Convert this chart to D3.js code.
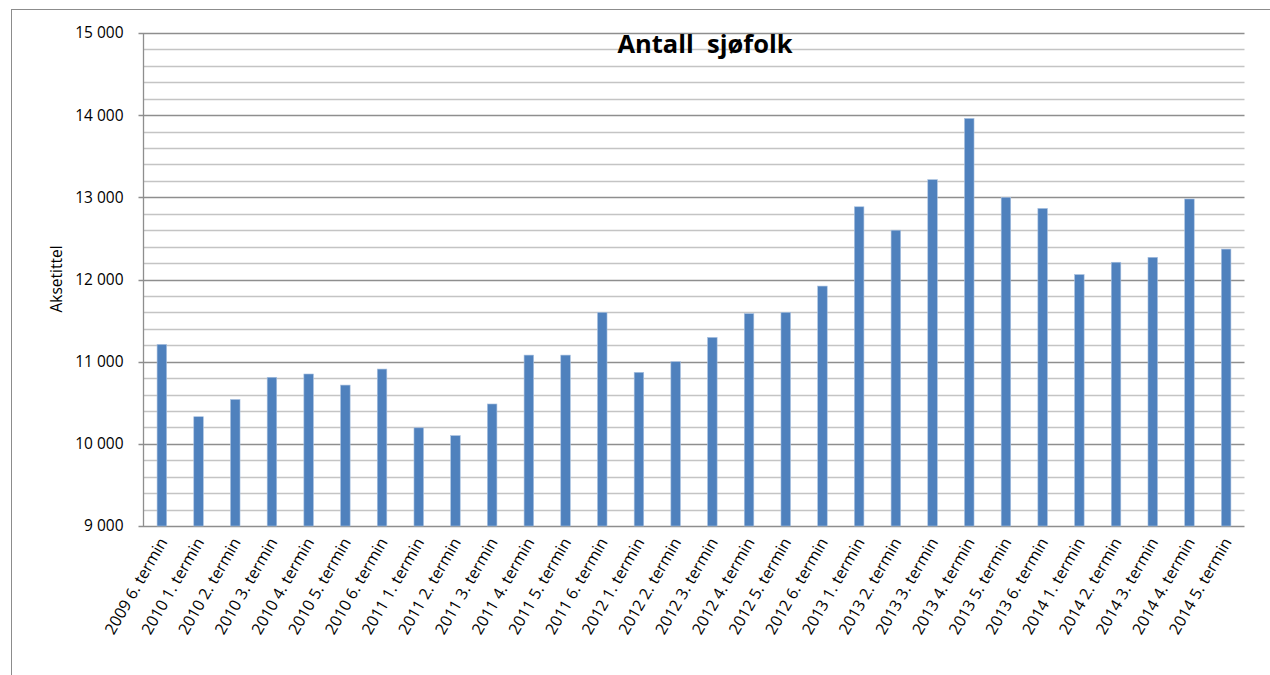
<!DOCTYPE html>
<html><head><meta charset="utf-8">
<script src="https://cdn.jsdelivr.net/npm/d3@7"></script>
<style>body{margin:0;background:#fff;} svg{display:block;}</style>
</head><body>
<script>
const categories = ["2009 6. termin","2010 1. termin","2010 2. termin","2010 3. termin","2010 4. termin","2010 5. termin","2010 6. termin","2011 1. termin","2011 2. termin","2011 3. termin","2011 4. termin","2011 5. termin","2011 6. termin","2012 1. termin","2012 2. termin","2012 3. termin","2012 4. termin","2012 5. termin","2012 6. termin","2013 1. termin","2013 2. termin","2013 3. termin","2013 4. termin","2013 5. termin","2013 6. termin","2014 1. termin","2014 2. termin","2014 3. termin","2014 4. termin","2014 5. termin"];
const values = [11210,10330,10540,10810,10850,10715,10910,10195,10100,10485,11080,11080,11600,10870,11000,11295,11585,11600,11920,12885,12600,13215,13960,13000,12865,12060,12210,12270,12980,12370];
const majorTicks = [9000,10000,11000,12000,13000,14000,15000];
const title = "Antall  sjøfolk";
const yTitle = "Aksetittel";

const W=1270,H=675;
const svg=d3.select("body").append("svg").attr("width",W).attr("height",H);
const font="'Open Sans', 'Liberation Sans', Arial, sans-serif";
// outer frame
svg.append("rect").attr("x",11.5).attr("y",9.5).attr("width",W+10).attr("height",H+10)
  .attr("fill","none").attr("stroke","#8c8c8c").attr("stroke-width",1);

const pLeft=143.5,pRight=1244.5,pTop=33,pBottom=526;
const x=d3.scaleBand().domain(categories).range([pLeft,pRight]).paddingInner(0.74).paddingOuter(0.37);
const y=d3.scaleLinear().domain([9000,15000]).range([pBottom,pTop]);

const minor=d3.range(9000,15001,200).filter(v=>v%1000!==0);
svg.append("g").selectAll("line").data(minor).join("line")
  .attr("x1",pLeft).attr("x2",pRight).attr("y1",d=>Math.round(y(d))+0.5).attr("y2",d=>Math.round(y(d))+0.5)
  .attr("stroke","#c4c4c4").attr("stroke-width",1.3);
svg.append("g").selectAll("line").data(majorTicks).join("line")
  .attr("x1",pLeft-5).attr("x2",pRight).attr("y1",d=>Math.round(y(d))+0.5).attr("y2",d=>Math.round(y(d))+0.5)
  .attr("stroke","#8e8e8e").attr("stroke-width",1.3);

// bars
svg.append("g").selectAll("rect").data(values).join("rect")
  .attr("x",(d,i)=>x(categories[i])).attr("width",x.bandwidth())
  .attr("y",d=>y(d)).attr("height",d=>pBottom-y(d))
  .attr("fill","#4f81bd").attr("stroke","#a9c1e0").attr("stroke-width",0.6);

// y axis line
svg.append("line").attr("x1",pLeft).attr("x2",pLeft).attr("y1",pTop).attr("y2",pBottom)
  .attr("stroke","#8e8e8e").attr("stroke-width",1.3);

// y labels
const ya=d3.axisLeft(y).tickValues(majorTicks).tickSize(0).tickPadding(20)
  .tickFormat(d=>d3.format(",")(d).replace(",","\u00a0"));
const gy=svg.append("g").attr("transform",`translate(${pLeft},0)`).call(ya);
gy.select(".domain").remove();
gy.selectAll("text").attr("font-family",font).attr("font-size",15.5).attr("fill","#000");

// x labels
const xa=d3.axisBottom(x).tickSize(0).tickPadding(0);
const gx=svg.append("g").attr("transform",`translate(0,${pBottom})`).call(xa);
gx.select(".domain").remove();
gx.selectAll("text").attr("font-family",font).attr("font-size",16).attr("fill","#000")
  .attr("text-anchor","end").attr("dy",0)
  .attr("transform","translate(6,16) rotate(-60)");

// titles
svg.append("text").attr("x",705).attr("y",53).attr("text-anchor","middle").attr("xml:space","preserve")
  .style("white-space","pre")
  .attr("font-family",font).attr("font-weight","bold").attr("font-size",25.5).text(title);
svg.append("text").attr("transform","translate(62,279) rotate(-90)").attr("text-anchor","middle")
  .attr("font-family",font).attr("font-size",15.5).text(yTitle);
</script>
</body></html>
